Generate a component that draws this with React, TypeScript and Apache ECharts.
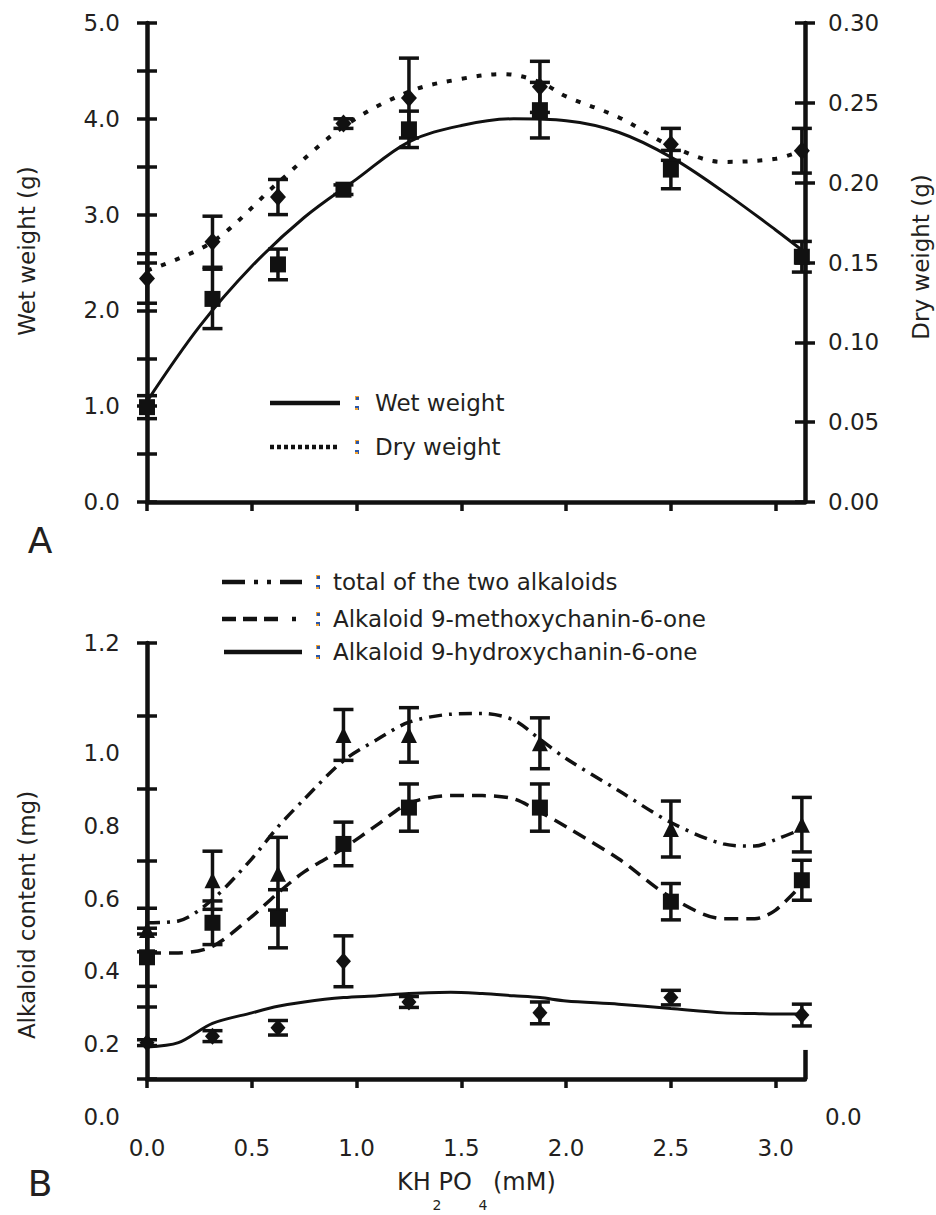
import React, { useEffect, useRef } from "react";
import * as echarts from "echarts";

// ---------- DATA ----------
// KH2PO4 concentration (mM) of the measured points
const xPoints = [0, 0.3125, 0.625, 0.9375, 1.25, 1.875, 2.5, 3.125];

// Panel A: wet weight (g, left axis) and dry weight (g, right axis)
const wetWeight = [0.99, 2.12, 2.48, 3.26, 3.89, 4.09, 3.47, 2.56];
const wetErr = [0.12, 0.31, 0.16, 0.05, 0.19, 0.29, 0.2, 0.16];
const dryWeight = [0.14, 0.163, 0.191, 0.237, 0.253, 0.26, 0.224, 0.22];
const dryErr = [0.0155, 0.016, 0.011, 0.003, 0.025, 0.016, 0.01, 0.014];

// Panel A fitted curves
const wetFitX = [0, 0.25, 0.5, 0.75, 1.0, 1.25, 1.5, 1.75, 2.0, 2.25, 2.5, 2.75, 3.0, 3.125];
const wetFit = [1.05, 1.83, 2.46, 2.97, 3.37, 3.76, 3.93, 4.0, 3.98, 3.86, 3.6, 3.24, 2.84, 2.63];
const dryFitX = [0, 0.3125, 0.625, 0.9375, 1.25, 1.5, 1.7, 1.875, 2.0, 2.25, 2.5, 2.75, 3.0, 3.125];
const dryFit = [0.145, 0.163, 0.2, 0.235, 0.257, 0.265, 0.268, 0.263, 0.254, 0.241, 0.223, 0.213, 0.215, 0.22];

// Panel B: alkaloid content (mg)
const totalAlk = [0.51, 0.647, 0.665, 1.047, 1.047, 1.024, 0.788, 0.8];
const totalErr = [0.06, 0.08, 0.1, 0.07, 0.075, 0.07, 0.077, 0.075];
const methoxyAlk = [0.435, 0.53, 0.541, 0.747, 0.847, 0.847, 0.588, 0.647];
const methoxyErr = [0.08, 0.06, 0.08, 0.06, 0.065, 0.065, 0.05, 0.055];
const hydroxyAlk = [0.2, 0.218, 0.241, 0.424, 0.312, 0.282, 0.324, 0.276];
const hydroxyErr = [0.008, 0.015, 0.02, 0.07, 0.015, 0.03, 0.02, 0.03];

// Panel B fitted curves
const alkFitX = [0, 0.15, 0.3125, 0.5, 0.625, 0.75, 0.9375, 1.1, 1.25, 1.45, 1.6, 1.75, 1.875, 2.0, 2.25, 2.5, 2.75, 2.9, 3.0, 3.125];
const totalFit = [0.53, 0.535, 0.594, 0.706, 0.794, 0.87, 0.976, 1.035, 1.082, 1.104, 1.106, 1.088, 1.035, 0.982, 0.894, 0.806, 0.747, 0.741, 0.759, 0.788];
const methoxyFit = [0.447, 0.447, 0.465, 0.547, 0.612, 0.67, 0.735, 0.8, 0.859, 0.88, 0.88, 0.871, 0.835, 0.794, 0.706, 0.6, 0.541, 0.541, 0.565, 0.635];
const hydroxyFit = [0.188, 0.2, 0.253, 0.282, 0.3, 0.312, 0.324, 0.329, 0.335, 0.339, 0.335, 0.329, 0.324, 0.315, 0.306, 0.294, 0.282, 0.28, 0.279, 0.279];

// Ticks / labels
const xTicks = [0, 0.5, 1.0, 1.5, 2.0, 2.5, 3.0];
const wetLabels = [0, 1, 2, 3, 4, 5];
const alkLabels = [0, 0.2, 0.4, 0.6, 0.8, 1.0];
const alkTopLabel = "1.2";
const rightStub = [0.1, 0.18];

const seriesNames = {
  wet: "Wet weight",
  dry: "Dry weight",
  total: "total of the two alkaloids",
  methoxy: "Alkaloid 9-methoxychanin-6-one",
  hydroxy: "Alkaloid 9-hydroxychanin-6-one",
};

// ---------- STYLE ----------
const INK = "#111111";
const TXT = "#231f20";
const FONT = "DejaVu Sans";
const AXW = 4.5;
const XMAX = 3.14;

const pairs = (xs: number[], ys: number[]) => xs.map((x, i) => [x, ys[i]]);
const errData = (vals: number[], errs: number[]) =>
  xPoints.map((x, i) => [x, vals[i] - errs[i], vals[i] + errs[i]]);

const errRender = (params: any, api: any) => {
  const x = api.value(0);
  const top = api.coord([x, api.value(2)]);
  const bot = api.coord([x, api.value(1)]);
  const cap = 10;
  const style = { stroke: INK, lineWidth: 3.5 };
  return {
    type: "group",
    children: [
      { type: "line", shape: { x1: top[0], y1: top[1], x2: bot[0], y2: bot[1] }, style },
      { type: "line", shape: { x1: top[0] - cap, y1: top[1], x2: top[0] + cap, y2: top[1] }, style },
      { type: "line", shape: { x1: bot[0] - cap, y1: bot[1], x2: bot[0] + cap, y2: bot[1] }, style },
    ],
  };
};

const labelStyle = { fontSize: 23, color: TXT, fontFamily: FONT };

const yAxisBase = (grid: number, pos: string, min: number, max: number, interval: number, inside: boolean) => ({
  type: "value",
  gridIndex: grid,
  position: pos,
  min,
  max,
  interval,
  axisLine: { show: !inside, onZero: false, lineStyle: { color: INK, width: AXW } },
  axisTick: { show: true, inside, length: 10, lineStyle: { color: INK, width: 3.5 } },
  splitLine: { show: false },
  axisLabel: { show: false },
});

const xAxisBase = (grid: number) => ({
  type: "value",
  gridIndex: grid,
  min: 0,
  max: XMAX,
  axisLine: { onZero: false, lineStyle: { color: INK, width: AXW } },
  axisTick: { show: true, customValues: xTicks, length: 9, lineStyle: { color: INK, width: 3.5 } },
  splitLine: { show: false },
  axisLabel: { show: false },
});

const colonDots = (x: number, y: number) => [
  { type: "rect", shape: { x: x - 2, y: y - 7, width: 4, height: 4 }, style: { fill: "#f0a030" } },
  { type: "rect", shape: { x: x - 1, y: y - 6, width: 3, height: 3 }, style: { fill: "#2a56a8" } },
  { type: "rect", shape: { x: x - 2, y: y + 3, width: 4, height: 4 }, style: { fill: "#2a56a8" } },
  { type: "rect", shape: { x: x - 2, y: y + 5, width: 3, height: 2 }, style: { fill: "#f0a030" } },
];

const legendText = (x: number, y: number, text: string) => ({
  type: "text",
  x,
  y,
  style: { text, fill: TXT, fontSize: 23, fontFamily: FONT, align: "left", verticalAlign: "middle" },
});

const legendLine = (x1: number, x2: number, y: number, dash: number[] | null) => ({
  type: "line",
  shape: { x1, y1: y, x2, y2: y },
  style: { stroke: INK, lineWidth: 4.5, lineDash: dash || undefined },
});

const markerStyle = { color: INK, opacity: 1 };

export default function App() {
  const ref = useRef<HTMLDivElement>(null);

  useEffect(() => {
    document.body.style.margin = "0";
    document.body.style.overflow = "hidden";
    if (!ref.current) return;
    const chart = echarts.init(ref.current, undefined, { renderer: "svg" });

    const option: any = {
      animation: false,
      backgroundColor: "#ffffff",
      textStyle: { fontFamily: FONT, color: TXT },
      grid: [
        { left: 147, top: 23, width: 658, height: 479, outerBoundsMode: "none" },
        { left: 147, top: 643, width: 658, height: 436, outerBoundsMode: "none" },
        { left: 147, top: 753, width: 658, height: 364, outerBoundsMode: "none" },
      ],
      xAxis: [
        xAxisBase(0),
        {
          ...xAxisBase(1),
          axisLabel: {
            show: true,
            customValues: xTicks,
            margin: 57,
            formatter: (v: number) => v.toFixed(1),
            ...labelStyle,
          },
        },
        { type: "value", gridIndex: 2, min: 0, max: XMAX, show: false },
      ],
      yAxis: [
        // 0: wet weight (left, A)
        {
          ...yAxisBase(0, "left", 0, 5, 0.5, false),
          axisLabel: {
            show: true,
            customValues: wetLabels,
            margin: 27,
            formatter: (v: number) => v.toFixed(1),
            ...labelStyle,
          },
        },
        // 1: dry weight (right, A)
        {
          ...yAxisBase(0, "right", 0, 0.3, 0.05, false),
          axisLabel: {
            show: true,
            margin: 23,
            formatter: (v: number) => v.toFixed(2),
            ...labelStyle,
          },
        },
        // 2,3: inner halves of the crossing ticks (A)
        yAxisBase(0, "left", 0, 5, 0.5, true),
        yAxisBase(0, "right", 0, 0.3, 0.05, true),
        // 4: alkaloid axis (left, B)
        {
          ...yAxisBase(1, "left", 0.1, 1.3, 0.2, false),
          axisLabel: {
            show: true,
            customValues: [1.3],
            margin: 27,
            formatter: () => alkTopLabel,
            ...labelStyle,
          },
        },
        // 5: inner ticks (B)
        yAxisBase(1, "left", 0.1, 1.3, 0.2, true),
        // 6: label axis for B
        {
          type: "value",
          gridIndex: 2,
          position: "left",
          min: 0,
          max: 1,
          interval: 0.2,
          axisLine: { show: false },
          axisTick: { show: false },
          splitLine: { show: false },
          axisLabel: {
            show: true,
            customValues: alkLabels,
            margin: 27,
            formatter: (v: number) => v.toFixed(1),
            ...labelStyle,
          },
        },
        // 7: right label for B
        {
          type: "value",
          gridIndex: 2,
          position: "right",
          min: 0,
          max: 1,
          interval: 0.2,
          axisLine: { show: false },
          axisTick: { show: false },
          splitLine: { show: false },
          axisLabel: {
            show: true,
            customValues: [0],
            margin: 20,
            formatter: (v: number) => v.toFixed(1),
            ...labelStyle,
          },
        },
      ],
      series: [
        // ----- Panel A -----
        {
          name: seriesNames.wet,
          type: "line",
          xAxisIndex: 0,
          yAxisIndex: 0,
          data: pairs(wetFitX, wetFit),
          smooth: 0.35,
          symbol: "none",
          lineStyle: { color: INK, width: 3, type: "solid" },
          z: 2,
        },
        {
          name: seriesNames.dry,
          type: "line",
          xAxisIndex: 0,
          yAxisIndex: 1,
          data: pairs(dryFitX, dryFit),
          smooth: 0.35,
          symbol: "none",
          lineStyle: { color: INK, width: 4, type: [5, 10] },
          z: 2,
        },
        {
          type: "custom",
          xAxisIndex: 0,
          yAxisIndex: 0,
          renderItem: errRender,
          encode: { x: 0, y: [1, 2] },
          data: errData(wetWeight, wetErr),
          z: 3,
        },
        {
          type: "custom",
          xAxisIndex: 0,
          yAxisIndex: 1,
          renderItem: errRender,
          encode: { x: 0, y: [1, 2] },
          data: errData(dryWeight, dryErr),
          z: 3,
        },
        {
          type: "scatter",
          xAxisIndex: 0,
          yAxisIndex: 0,
          data: pairs(xPoints, wetWeight),
          symbol: "rect",
          symbolSize: 16,
          itemStyle: markerStyle,
          z: 4,
        },
        {
          type: "scatter",
          xAxisIndex: 0,
          yAxisIndex: 1,
          data: pairs(xPoints, dryWeight),
          symbol: "diamond",
          symbolSize: [16, 18],
          itemStyle: markerStyle,
          z: 4,
        },
        // ----- Panel B -----
        {
          name: seriesNames.total,
          type: "line",
          xAxisIndex: 1,
          yAxisIndex: 4,
          data: pairs(alkFitX, totalFit),
          smooth: 0.3,
          symbol: "none",
          lineStyle: { color: INK, width: 3.5, type: [13, 7, 3, 7] },
          z: 2,
        },
        {
          name: seriesNames.methoxy,
          type: "line",
          xAxisIndex: 1,
          yAxisIndex: 4,
          data: pairs(alkFitX, methoxyFit),
          smooth: 0.3,
          symbol: "none",
          lineStyle: { color: INK, width: 3.5, type: [14, 8] },
          z: 2,
        },
        {
          name: seriesNames.hydroxy,
          type: "line",
          xAxisIndex: 1,
          yAxisIndex: 4,
          data: pairs(alkFitX, hydroxyFit),
          smooth: 0.3,
          symbol: "none",
          lineStyle: { color: INK, width: 3, type: "solid" },
          z: 2,
          markLine: {
            silent: true,
            symbol: "none",
            label: { show: false },
            lineStyle: { color: INK, width: AXW, type: "solid" },
            data: [[{ coord: [XMAX, rightStub[0]] }, { coord: [XMAX, rightStub[1]] }]],
          },
        },
        {
          type: "custom",
          xAxisIndex: 1,
          yAxisIndex: 4,
          renderItem: errRender,
          encode: { x: 0, y: [1, 2] },
          data: errData(totalAlk, totalErr),
          z: 3,
        },
        {
          type: "custom",
          xAxisIndex: 1,
          yAxisIndex: 4,
          renderItem: errRender,
          encode: { x: 0, y: [1, 2] },
          data: errData(methoxyAlk, methoxyErr),
          z: 3,
        },
        {
          type: "custom",
          xAxisIndex: 1,
          yAxisIndex: 4,
          renderItem: errRender,
          encode: { x: 0, y: [1, 2] },
          data: errData(hydroxyAlk, hydroxyErr),
          z: 3,
        },
        {
          type: "scatter",
          xAxisIndex: 1,
          yAxisIndex: 4,
          data: pairs(xPoints, totalAlk),
          symbol: "triangle",
          symbolSize: 16,
          itemStyle: markerStyle,
          z: 4,
        },
        {
          type: "scatter",
          xAxisIndex: 1,
          yAxisIndex: 4,
          data: pairs(xPoints, methoxyAlk),
          symbol: "rect",
          symbolSize: 16,
          itemStyle: markerStyle,
          z: 4,
        },
        {
          type: "scatter",
          xAxisIndex: 1,
          yAxisIndex: 4,
          data: pairs(xPoints, hydroxyAlk),
          symbol: "diamond",
          symbolSize: [15, 17],
          itemStyle: markerStyle,
          z: 4,
        },
      ],
      graphic: [
        // panel letters
        { type: "text", x: 40, y: 540, style: { text: "A", fontSize: 36, fontFamily: FONT, fill: TXT, align: "center", verticalAlign: "middle" } },
        { type: "text", x: 40, y: 1183, style: { text: "B", fontSize: 36, fontFamily: FONT, fill: TXT, align: "center", verticalAlign: "middle" } },
        // axis names
        { type: "text", x: 27, y: 251, rotation: Math.PI / 2, style: { text: "Wet weight (g)", fontSize: 23, fontFamily: FONT, fill: TXT, align: "center", verticalAlign: "middle" } },
        { type: "text", x: 921, y: 257, rotation: Math.PI / 2, style: { text: "Dry weight (g)", fontSize: 23, fontFamily: FONT, fill: TXT, align: "center", verticalAlign: "middle" } },
        { type: "text", x: 27, y: 915, rotation: Math.PI / 2, style: { text: "Alkaloid content (mg)", fontSize: 23, fontFamily: FONT, fill: TXT, align: "center", verticalAlign: "middle" } },
        // x-axis name with subscripts set apart, as in the figure
        { type: "text", x: 397, y: 1182, style: { text: "KH PO", fontSize: 24, fontFamily: FONT, fill: TXT, align: "left", verticalAlign: "middle" } },
        { type: "text", x: 493, y: 1182, style: { text: "(mM)", fontSize: 24, fontFamily: FONT, fill: TXT, align: "left", verticalAlign: "middle" } },
        { type: "text", x: 437, y: 1205, style: { text: "2", fontSize: 14, fontFamily: FONT, fill: TXT, align: "center", verticalAlign: "middle" } },
        { type: "text", x: 483, y: 1205, style: { text: "4", fontSize: 14, fontFamily: FONT, fill: TXT, align: "center", verticalAlign: "middle" } },
        // legend A
        legendLine(270, 340, 403, null),
        legendLine(270, 338, 447, [4, 3]),
        ...colonDots(357, 403),
        ...colonDots(357, 447),
        legendText(375, 403, seriesNames.wet),
        legendText(375, 447, seriesNames.dry),
        // legend B
        legendLine(222, 302, 582, [23, 9, 4, 9, 4, 9]),
        legendLine(222, 300, 619, [14, 7, 14, 7, 14, 14, 4, 20]),
        legendLine(224, 302, 652, null),
        ...colonDots(318, 582),
        ...colonDots(318, 619),
        ...colonDots(318, 652),
        legendText(333, 582, seriesNames.total),
        legendText(333, 619, seriesNames.methoxy),
        legendText(333, 652, seriesNames.hydroxy),
      ],
    };

    chart.setOption(option);
    return () => chart.dispose();
  }, []);

  return <div ref={ref} style={{ width: 936, height: 1215 }} />;
}
